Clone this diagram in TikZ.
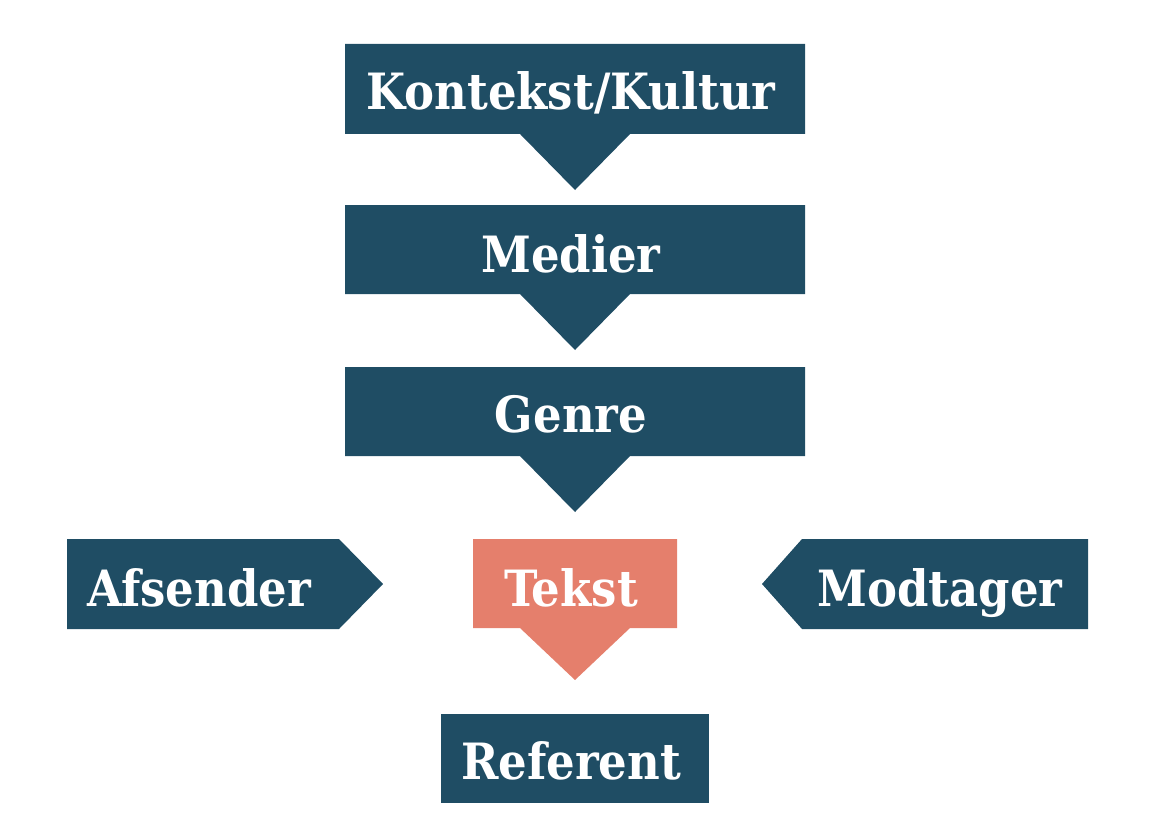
\documentclass[tikz,border=0pt]{standalone}
\usepackage{fontspec}
\setmainfont{DejaVu Serif Condensed}[BoldFont={* Bold}]
\definecolor{navy}{HTML}{1F4D64}
\definecolor{salmon}{HTML}{E57F6C}
\begin{document}
\begin{tikzpicture}[x=1pt,y=-1pt,
  shapebox/.style={fill=navy,draw=none},
  label/.style={text=white,font=\fontsize{50}{58}\selectfont\bfseries,anchor=base,inner sep=0pt}]
\useasboundingbox (0,0) rectangle (1150,821);
% Kontekst/Kultur
\path[shapebox] (345,44) -- (805,44) -- (805,134) -- (630,134) -- (575,190) -- (520,134) -- (345,134) -- cycle;
% Medier
\path[shapebox] (345,205) -- (805,205) -- (805,294) -- (630,294) -- (575,350) -- (520,294) -- (345,294) -- cycle;
% Genre
\path[shapebox] (345,367) -- (805,367) -- (805,456) -- (630,456) -- (575,512) -- (520,456) -- (345,456) -- cycle;
% Afsender
\path[shapebox] (67,539) -- (339,539) -- (383,584) -- (339,629) -- (67,629) -- cycle;
% Tekst
\path[fill=salmon] (473,539) -- (677,539) -- (677,628) -- (630,628) -- (575,680) -- (520,628) -- (473,628) -- cycle;
% Modtager
\path[shapebox] (802,539) -- (1088,539) -- (1088,629) -- (802,629) -- (762,584) -- cycle;
% Referent
\path[shapebox] (441,714) rectangle (709,803);

\node[label] (kontekst) at (571,110) {Kontekst/Kultur};
\node[label] (medier) at (571,272) {Medier};
\node[label] (genre) at (571,432) {Genre};
\node[label] (afsender) at (199,606) {Afsender};
\node[label] (tekst) at (571,606) {Tekst};
\node[label] (modtager) at (940,606) {Modtager};
\node[label] (referent) at (571,779) {Referent};
\end{tikzpicture}
\end{document}
